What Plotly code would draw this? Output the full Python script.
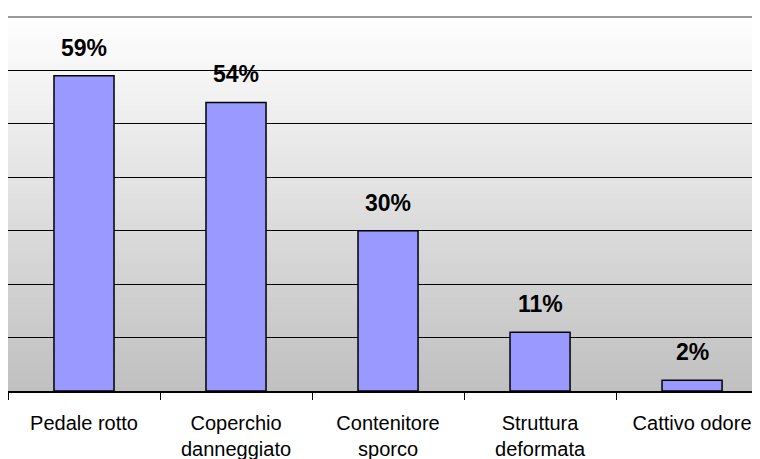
import plotly.graph_objects as go

# dati
categorie = ["Pedale rotto", "Coperchio<br>danneggiato", "Contenitore<br>sporco",
             "Struttura<br>deformata", "Cattivo odore"]
percentuali = [59, 54, 30, 11, 2]

fig = go.Figure()

fig.add_trace(go.Bar(
    x=categorie,
    y=percentuali,
    width=0.395,
    marker=dict(color='#9999ff', line=dict(color='black', width=1.5)),
    hoverinfo='skip'
))

# sfondo sfumato (bianco in alto, grigio in basso)
n = 80
shapes = []
for i in range(n):
    t = i / (n - 1)
    g = int(round(192 + (254 - 192) * t))
    shapes.append(dict(
        type='rect', xref='x domain', yref='y domain',
        x0=0, x1=1, y0=i / n, y1=(i + 1.5) / n,
        fillcolor=f'rgb({g},{g},{g})', line=dict(width=0), layer='below'
    ))
# bordo superiore grigio
shapes.append(dict(type='line', xref='paper', yref='y domain', x0=0, x1=1, y0=1, y1=1,
                   line=dict(color='#9a9a9a', width=2), layer='above'))

annotations = [
    dict(x=c, y=v, xref='x', yref='y', text=f"<b>{v}%</b>", showarrow=False,
         yanchor='middle', yshift=28, font=dict(size=23, color='black'))
    for c, v in zip(categorie, percentuali)
]

# la pagina ha un margine di 8px: l'area del grafico parte da x=8, y=17
fig.update_layout(
    width=752, height=451,
    margin=dict(l=0, r=0, t=9, b=68),
    paper_bgcolor='white',
    plot_bgcolor='white',
    font=dict(family='Liberation Sans, Arial, sans-serif', color='black'),
    showlegend=False,
    shapes=shapes,
    annotations=annotations,
    xaxis=dict(
        range=[-0.5, 4.447],
        showline=True, linecolor='black', linewidth=2,
        ticks='outside', tickson='boundaries', ticklen=7, tickcolor='black', tickwidth=1,
        tickfont=dict(size=20, color='black'),
        ticklabelstandoff=13,
        showgrid=False
    ),
    yaxis=dict(
        range=[0, 70], dtick=10,
        showgrid=True, gridcolor='black', gridwidth=1,
        showticklabels=False, zeroline=False,
        showline=True, linecolor='#9a9a9a', linewidth=2
    )
)

fig.write_html("out.html")
